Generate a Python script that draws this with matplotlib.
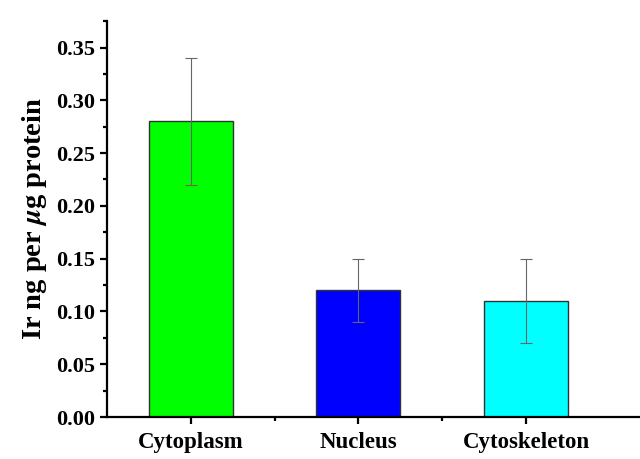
import numpy as np
import matplotlib
matplotlib.use("Agg")
import matplotlib.pyplot as plt
from matplotlib.ticker import MultipleLocator, FixedLocator, FormatStrFormatter

plt.rcParams['font.family'] = ['Liberation Serif', 'DejaVu Serif']
plt.rcParams['font.weight'] = 'bold'
plt.rcParams['mathtext.fontset'] = 'stix'

categories = ['Cytoplasm', 'Nucleus', 'Cytoskeleton']
values = [0.28, 0.12, 0.11]
errors = [0.06, 0.03, 0.04]
colors = ['#00ff00', '#0000ff', '#00ffff']

fig = plt.figure(figsize=(6.4, 4.59), dpi=100)
ax = fig.add_axes([0.167, 0.0915, 0.833, 0.8625])

x = np.arange(1, len(categories) + 1)
ax.bar(x, values, width=0.5, color=colors, edgecolor='#333333', linewidth=1.0,
       yerr=errors, ecolor='#666666', error_kw=dict(elinewidth=0.8, capsize=4, capthick=0.8),
       zorder=2)

ax.set_xlim(0.5, 3.68)
ax.set_ylim(0, 0.375)
ax.set_xticks(x)
ax.set_xticklabels(categories)
ax.xaxis.set_minor_locator(FixedLocator([1.5, 2.5]))
ax.yaxis.set_major_locator(MultipleLocator(0.05))
ax.yaxis.set_minor_locator(MultipleLocator(0.025))
ax.yaxis.set_major_formatter(FormatStrFormatter('%.2f'))

for s in ['top', 'right']:
    ax.spines[s].set_visible(False)
for s in ['left', 'bottom']:
    ax.spines[s].set_linewidth(1.6)

ax.tick_params(which='major', direction='out', length=5, width=1.6, labelsize=16)
ax.tick_params(which='minor', direction='out', length=3, width=1.6)
ax.tick_params(axis='x', labelsize=16.5, pad=6)
for lab in ax.get_xticklabels() + ax.get_yticklabels():
    lab.set_fontweight('bold')

ax.set_ylabel(r'Ir ng per $\mu$g protein', fontsize=20.5, fontweight='bold', labelpad=5)

fig.savefig('out.png', dpi=100)
